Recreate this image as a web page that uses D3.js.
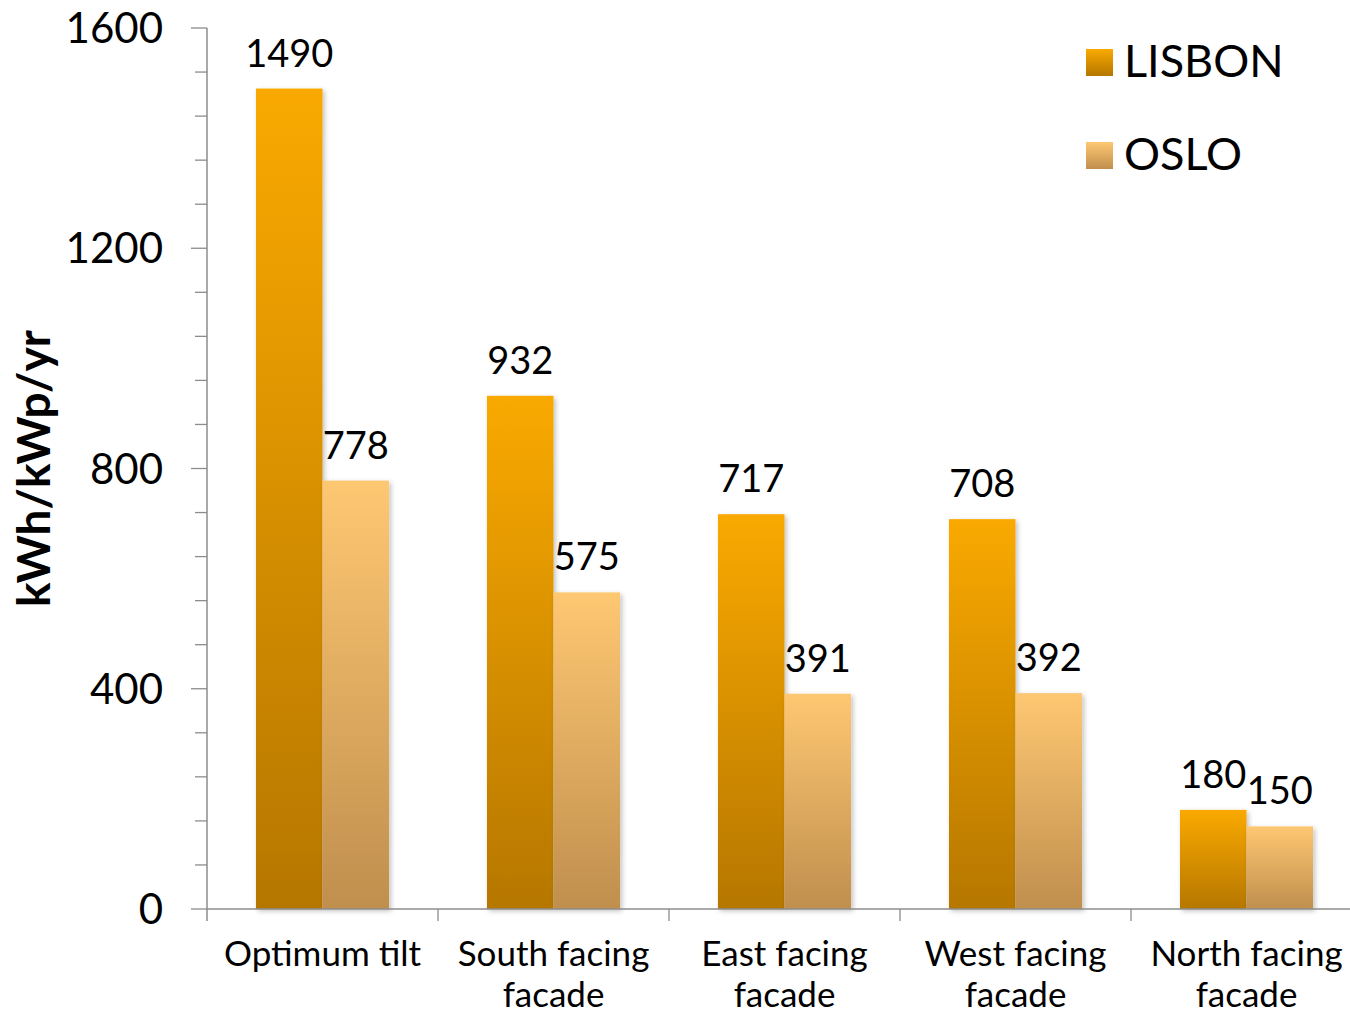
<!DOCTYPE html>
<html>
<head>
<meta charset="utf-8">
<script src="https://cdn.jsdelivr.net/npm/d3@7"></script>
<style>
  html, body { margin: 0; padding: 0; background: #fff; }
  svg { display: block; font-family: Lato, "Open Sans", sans-serif; }
</style>
</head>
<body>
<svg id="chart" width="1350" height="1016"></svg>
<script>
// Specific yield per orientation, two cities
const categories = [
  ["Optimum tilt"],
  ["South facing", "facade"],
  ["East facing", "facade"],
  ["West facing", "facade"],
  ["North facing", "facade"]
];
const seriesNames = ["LISBON", "OSLO"];
const lisbon = [1490, 932, 717, 708, 180];
const oslo = [778, 575, 391, 392, 150];
const yTicks = [0, 400, 800, 1200, 1600];
const yTitle = "kWh/kWp/yr";

const svg = d3.select("#chart");
const plotLeft = 207, plotRight = 1362, plotTop = 28, plotBottom = 909;

const catKeys = categories.map(c => c.join(" "));
const x0 = d3.scaleBand().domain(catKeys).range([plotLeft, plotRight]).padding(0);
const bw = x0.bandwidth();
const x1 = d3.scaleBand().domain(seriesNames).range([bw * 0.212, bw * 0.788]).padding(0);
const y = d3.scaleLinear().domain([0, 1600]).range([plotBottom, plotTop]);

// gradients and shadow
const defs = svg.append("defs");
const grads = {
  LISBON: ["#f9a900", "#b67700"],
  OSLO: ["#fec772", "#c08f4e"]
};
Object.entries(grads).forEach(([k, [c1, c2]]) => {
  const g = defs.append("linearGradient").attr("id", "g-" + k)
    .attr("x1", 0).attr("y1", 0).attr("x2", 0).attr("y2", 1);
  g.append("stop").attr("offset", "0%").attr("stop-color", c1);
  g.append("stop").attr("offset", "100%").attr("stop-color", c2);
});
const f = defs.append("filter").attr("id", "shadow")
  .attr("x", "-10%").attr("y", "-10%").attr("width", "130%").attr("height", "130%");
f.append("feDropShadow").attr("dx", 2).attr("dy", 2).attr("stdDeviation", 2.5)
  .attr("flood-color", "#000").attr("flood-opacity", 0.25);

// y axis with minor ticks
const minor = d3.range(0, 1601, 80).filter(v => v % 400 !== 0);
const axisColor = "#8c8c8c";
const yAxisG = svg.append("g");
yAxisG.selectAll("line.minor").data(minor).join("line")
  .attr("x1", plotLeft - 12).attr("x2", plotLeft)
  .attr("y1", d => y(d)).attr("y2", d => y(d))
  .attr("stroke", axisColor).attr("stroke-width", 1.3);
yAxisG.selectAll("line.major").data(yTicks).join("line")
  .attr("x1", plotLeft - 16).attr("x2", plotLeft)
  .attr("y1", d => y(d)).attr("y2", d => y(d))
  .attr("stroke", axisColor).attr("stroke-width", 1.3);
yAxisG.append("line").attr("x1", plotLeft).attr("x2", plotLeft)
  .attr("y1", y(1600)).attr("y2", plotBottom + 12)
  .attr("stroke", axisColor).attr("stroke-width", 1.5);
yAxisG.selectAll("text").data(yTicks).join("text")
  .attr("x", 163).attr("y", d => y(d)).attr("dy", "0.36em")
  .attr("text-anchor", "end").attr("font-size", 42).attr("fill", "#000")
  .text(d => d);

// y title
svg.append("text")
  .attr("transform", `translate(50,${y(800)}) rotate(-90)`)
  .attr("text-anchor", "middle").attr("font-size", 46).attr("font-weight", 700)
  .attr("fill", "#000").text(yTitle);

// bars
const groups = svg.append("g").selectAll("g").data(catKeys).join("g")
  .attr("transform", d => `translate(${x0(d)},0)`);
const rows = catKeys.map((k, i) => [
  { s: "LISBON", v: lisbon[i] },
  { s: "OSLO", v: oslo[i] }
]);
groups.each(function (d, i) {
  const g = d3.select(this);
  g.selectAll("rect").data(rows[i]).join("rect")
    .attr("x", r => x1(r.s)).attr("width", x1.bandwidth())
    .attr("y", r => y(r.v)).attr("height", r => plotBottom - y(r.v))
    .attr("fill", r => `url(#g-${r.s})`)
    .attr("filter", "url(#shadow)");
  g.selectAll("text").data(rows[i]).join("text")
    .attr("x", r => x1(r.s) + x1.bandwidth() / 2)
    .attr("y", r => y(r.v) - 22)
    .attr("text-anchor", "middle").attr("font-size", 38).attr("fill", "#000")
    .text(r => r.v);
});

// x axis
svg.append("line").attr("x1", plotLeft).attr("x2", 1350)
  .attr("y1", plotBottom).attr("y2", plotBottom)
  .attr("stroke", axisColor).attr("stroke-width", 1.5);
const bounds = catKeys.map(k => x0(k));
svg.selectAll("line.xt").data(bounds.slice(1)).join("line")
  .attr("x1", d => d).attr("x2", d => d)
  .attr("y1", plotBottom).attr("y2", plotBottom + 12)
  .attr("stroke", axisColor).attr("stroke-width", 1.3);
const catLabels = svg.append("g").selectAll("text").data(categories).join("text")
  .attr("text-anchor", "middle").attr("font-size", 35).attr("fill", "#000")
  .attr("transform", (d, i) => `translate(${x0(catKeys[i]) + bw / 2},966)`);
catLabels.selectAll("tspan").data(d => d).join("tspan")
  .attr("x", 0).attr("y", (d, j) => j * 41).text(d => d);

// legend
const legend = svg.append("g");
const legY = [49, 142];
seriesNames.forEach((s, i) => {
  legend.append("rect").attr("x", 1086).attr("y", legY[i])
    .attr("width", 27).attr("height", 27).attr("fill", `url(#g-${s})`);
  legend.append("text").attr("x", 1124).attr("y", legY[i] + 28)
    .attr("font-size", 45).attr("fill", "#000").text(s);
});
</script>
</body>
</html>
